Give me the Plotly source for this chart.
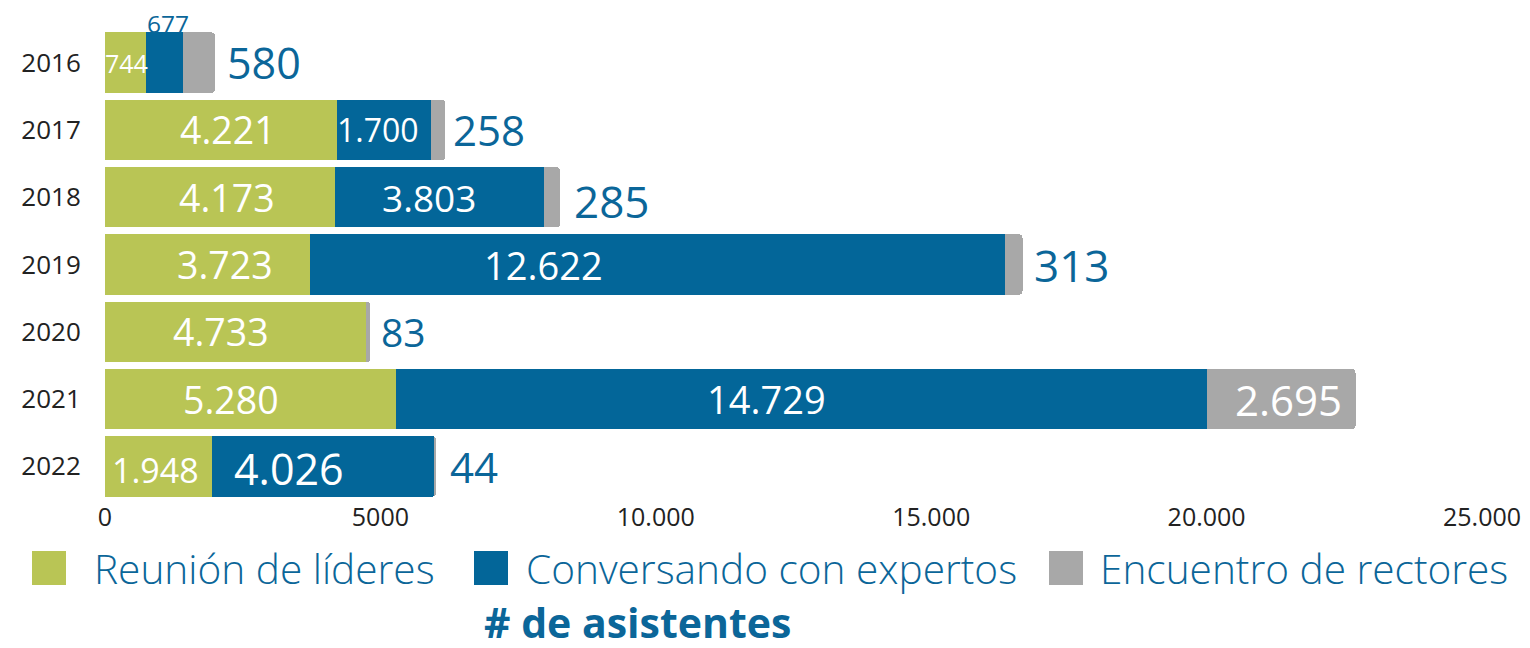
import plotly.graph_objects as go

# ---------------- data ----------------
years = ["2016", "2017", "2018", "2019", "2020", "2021", "2022"]
reunion_lideres = [744, 4221, 4173, 3723, 4733, 5280, 1948]
conversando_expertos = [677, 1700, 3803, 12622, 0, 14729, 4026]
encuentro_rectores = [580, 258, 285, 313, 83, 2695, 44]

series_names = ["Reunión de líderes", "Conversando con expertos", "Encuentro de rectores"]
tick_vals = [0, 5000, 10000, 15000, 20000, 25000]
tick_text = ["0", "5000", "10.000", "15.000", "20.000", "25.000"]

# ---------------- style ----------------
GREEN = "#b9c555"
BLUE = "#036699"
GREY = "#a8a8a8"
LABEL_BLUE = "#0b6699"
FONT = "Open Sans"

OFF = 8                       # page body margin of the html page
W, H = 1530 - 2 * OFF, 648 - 2 * OFF
ML, MR, MT, MB = 97, 40, 21, 140

# label styles: (mode, font size, xshift px, yshift px)
green_style = [("in", 25, 1, 0), ("in", 37.5, 7, 0), ("in", 37.5, 7, 0), ("in", 37.5, 17, 0),
               ("in", 37.5, -14, 0), ("in", 37.5, -19, 0), ("in", 34, -3, -4)]
blue_style = [("above", 24.5, 3, 0), ("in", 32, -6, 0), ("in", 37, -11, 0), ("in", 38, -114, 0),
              (None, 0, 0, 0), ("in", 38, -35, 0), ("in", 43, -34, -2)]
grey_style = [("out", 43, 13, 0), ("out", 42, 9, 0), ("out", 44, 15, -4), ("out", 44, 12, 0),
              ("out", 39, 12, 0), ("in", 42, 7, 0), ("out", 42, 15, 0)]


def fmt(v):
    return f"{v:,}".replace(",", ".")


fig = go.Figure()
for name, vals, col in zip(series_names,
                           [reunion_lideres, conversando_expertos, encuentro_rectores],
                           [GREEN, BLUE, GREY]):
    fig.add_trace(go.Bar(y=years, x=vals, name=name, orientation="h",
                         marker=dict(color=col, line=dict(width=0)),
                         hoverinfo="x+name", showlegend=False))

annotations = []
for i, y in enumerate(years):
    g, b, r = reunion_lideres[i], conversando_expertos[i], encuentro_rectores[i]
    mode, size, xs, ys = green_style[i]
    annotations.append(dict(x=g / 2, y=i, text=fmt(g), showarrow=False, xanchor="center",
                            yanchor="middle", xshift=xs, yshift=ys,
                            font=dict(family=FONT, size=size, color="white")))
    mode, size, xs, ys = blue_style[i]
    if mode == "in":
        annotations.append(dict(x=g + b / 2, y=i, text=fmt(b), showarrow=False, xanchor="center",
                                yanchor="middle", xshift=xs, yshift=ys,
                                font=dict(family=FONT, size=size, color="white")))
    elif mode == "above":
        annotations.append(dict(x=g + b / 2, y=i, text=fmt(b), showarrow=False, xanchor="center",
                                yanchor="bottom", xshift=xs, yshift=21,
                                font=dict(family=FONT, size=size, color=LABEL_BLUE)))
    mode, size, xs, ys = grey_style[i]
    tot = g + b + r
    if mode == "out":
        annotations.append(dict(x=tot, y=i, text=fmt(r), showarrow=False, xanchor="left",
                                yanchor="middle", xshift=xs - 3, yshift=ys,
                                font=dict(family=FONT, size=size, color=LABEL_BLUE)))
    else:
        annotations.append(dict(x=g + b + r / 2, y=i, text=fmt(r), showarrow=False, xanchor="center",
                                yanchor="middle", xshift=xs, yshift=ys,
                                font=dict(family=FONT, size=size, color="white")))

pw, ph = W - ML - MR, H - MT - MB


def px_x(px):   # screen px -> paper
    return (px - OFF - ML) / pw


def px_y(py):   # screen px -> paper
    return (H - MB - (py - OFF)) / ph


shapes = []
legend_sq_x = [32, 474, 1049]
legend_txt_x = [92, 524, 1098]
for name, col, sx, tx in zip(series_names, [GREEN, BLUE, GREY], legend_sq_x, legend_txt_x):
    shapes.append(dict(type="rect", xref="paper", yref="paper",
                       x0=px_x(sx), x1=px_x(sx + 34), y0=px_y(585), y1=px_y(551),
                       fillcolor=col, line=dict(width=0)))
    annotations.append(dict(xref="paper", yref="paper", x=px_x(tx), y=px_y(568), text=name,
                            showarrow=False, xanchor="left", yanchor="middle",
                            font=dict(family=FONT, size=40.6, color=LABEL_BLUE, weight=300)))

annotations.append(dict(xref="paper", yref="paper", x=px_x(637), y=px_y(622),
                        text="<b># de asistentes</b>", showarrow=False,
                        xanchor="center", yanchor="middle",
                        font=dict(family=FONT, size=41, color=LABEL_BLUE)))

fig.update_layout(
    width=W, height=H,
    margin=dict(l=ML, r=MR, t=MT, b=MB, pad=0, autoexpand=False),
    barmode="stack", bargap=0.1, barcornerradius=4,
    plot_bgcolor="white", paper_bgcolor="white",
    font=dict(family=FONT, color="#222222"),
    xaxis=dict(range=[0, 25000], tickvals=tick_vals, ticktext=tick_text, automargin=False,
               showgrid=False, zeroline=False, showline=False, ticklabeloverflow="allow",
               tickfont=dict(size=25, color="#222222"), ticks="", ticklen=0),
    yaxis=dict(type="category", range=[len(years) - 0.5, -0.5], showgrid=False,
               zeroline=False, showline=False, automargin=False,
               tickfont=dict(size=26, color="#222222"), ticks="outside", ticklen=18,
               tickcolor="rgba(0,0,0,0)"),
    annotations=annotations, shapes=shapes,
    showlegend=False,
)

fig.write_html("out.html")
